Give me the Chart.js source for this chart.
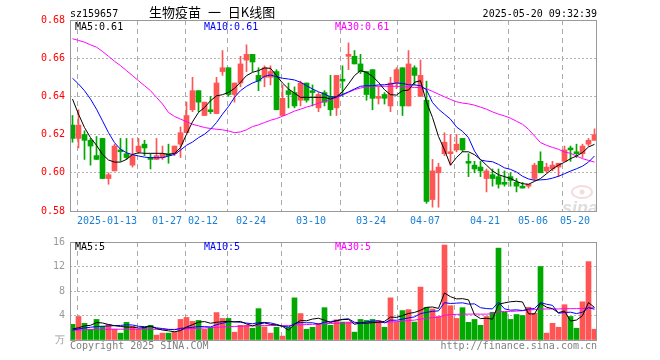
<!DOCTYPE html>
<html>
<head>
<meta charset="utf-8">
<script src="https://cdn.jsdelivr.net/npm/chart.js@4.4.1/dist/chart.umd.min.js"></script>
<style>
  html, body { margin: 0; padding: 0; background: #fff; }
  #wrap { position: relative; width: 660px; height: 360px; }
  #kline { position: absolute; left: 0; top: 0; }
  #vol { position: absolute; left: 0; top: 231px; }
</style>
</head>
<body>
<div id="wrap">
  <canvas id="kline" width="660" height="231"></canvas>
  <canvas id="vol" width="660" height="129"></canvas>
</div>
<script>
// trading days, 2025
const dates = [
  '01-03', '01-06', '01-07', '01-08', '01-09', '01-10',
  '01-13', '01-14', '01-15', '01-16', '01-17', '01-20', '01-21', '01-22', '01-23', '01-24', '01-27',
  '02-05', '02-06', '02-07', '02-10', '02-11', '02-12', '02-13', '02-14',
  '02-17', '02-18', '02-19', '02-20', '02-21', '02-24', '02-25', '02-26', '02-27', '02-28',
  '03-03', '03-04', '03-05', '03-06', '03-07', '03-10', '03-11', '03-12', '03-13', '03-14',
  '03-17', '03-18', '03-19', '03-20', '03-21', '03-24', '03-25', '03-26', '03-27', '03-28', '03-31',
  '04-01', '04-02', '04-03', '04-07', '04-08', '04-09', '04-10', '04-11',
  '04-14', '04-15', '04-16', '04-17', '04-18', '04-21', '04-22', '04-23', '04-24', '04-25',
  '04-28', '04-29', '04-30', '05-06', '05-07', '05-08', '05-09',
  '05-12', '05-13', '05-14', '05-15', '05-16', '05-19', '05-20'
];
const tickDates = ['01-13', '01-27', '02-12', '02-24', '03-10', '03-24', '04-07', '04-21', '05-06', '05-20'];
const tickLabels = ['2025-01-13', '01-27', '02-12', '02-24', '03-10', '03-24', '04-07', '04-21', '05-06', '05-20      '];
const priceTicks = [0.58, 0.60, 0.62, 0.64, 0.66, 0.68];
const volTicks = [0, 4, 8, 12, 16];

const open = [
  0.625, 0.618, 0.620, 0.617, 0.609, 0.618, 0.597, 0.601, 0.612, 0.610,
  0.604, 0.611, 0.615, 0.608, 0.607, 0.608, 0.610, 0.610, 0.615, 0.621,
  0.633, 0.643, 0.630, 0.633, 0.631, 0.653, 0.655, 0.641, 0.647, 0.659,
  0.662, 0.651, 0.650, 0.650, 0.653, 0.630, 0.643, 0.642, 0.638, 0.647,
  0.643, 0.634, 0.642, 0.640, 0.634, 0.649, 0.661, 0.661, 0.657, 0.653,
  0.654, 0.639, 0.641, 0.635, 0.647, 0.655, 0.635, 0.655, 0.640, 0.638,
  0.586, 0.600, 0.610, 0.610, 0.612, 0.618, 0.606, 0.604, 0.603, 0.597,
  0.599, 0.598, 0.595, 0.598, 0.595, 0.593, 0.593, 0.597, 0.606, 0.601,
  0.602, 0.603, 0.606, 0.613, 0.611, 0.610, 0.615, 0.617
];
const high = [
  0.630, 0.633, 0.622, 0.618, 0.619, 0.618, 0.600, 0.615, 0.618, 0.618,
  0.618, 0.618, 0.617, 0.610, 0.618, 0.614, 0.615, 0.614, 0.624, 0.637,
  0.650, 0.643, 0.637, 0.640, 0.650, 0.664, 0.655, 0.647, 0.661, 0.667,
  0.662, 0.655, 0.656, 0.656, 0.654, 0.646, 0.647, 0.645, 0.648, 0.647,
  0.646, 0.642, 0.643, 0.651, 0.651, 0.656, 0.668, 0.664, 0.662, 0.653,
  0.654, 0.645, 0.642, 0.650, 0.655, 0.655, 0.664, 0.656, 0.659, 0.648,
  0.607, 0.605, 0.621, 0.620, 0.620, 0.618, 0.610, 0.606, 0.606, 0.602,
  0.602, 0.602, 0.601, 0.600, 0.597, 0.595, 0.594, 0.605, 0.611, 0.605,
  0.606, 0.605, 0.614, 0.614, 0.615, 0.615, 0.618, 0.623
];
const low = [
  0.616, 0.613, 0.607, 0.604, 0.607, 0.597, 0.594, 0.601, 0.606, 0.607,
  0.603, 0.610, 0.609, 0.602, 0.607, 0.607, 0.605, 0.609, 0.608, 0.621,
  0.632, 0.632, 0.630, 0.631, 0.631, 0.651, 0.640, 0.637, 0.645, 0.653,
  0.653, 0.643, 0.645, 0.646, 0.633, 0.630, 0.634, 0.634, 0.635, 0.637,
  0.635, 0.632, 0.635, 0.630, 0.630, 0.640, 0.654, 0.657, 0.652, 0.638,
  0.633, 0.636, 0.636, 0.632, 0.644, 0.630, 0.635, 0.646, 0.640, 0.584,
  0.582, 0.582, 0.609, 0.604, 0.611, 0.611, 0.598, 0.600, 0.598, 0.590,
  0.593, 0.592, 0.593, 0.593, 0.590, 0.592, 0.592, 0.596, 0.600, 0.600,
  0.601, 0.598, 0.606, 0.606, 0.608, 0.608, 0.614, 0.617
];
const close = [
  0.618, 0.625, 0.617, 0.614, 0.607, 0.597, 0.599, 0.614, 0.611, 0.608,
  0.609, 0.614, 0.613, 0.607, 0.609, 0.610, 0.609, 0.614, 0.621, 0.630,
  0.643, 0.637, 0.637, 0.632, 0.647, 0.655, 0.641, 0.647, 0.657, 0.662,
  0.658, 0.648, 0.655, 0.653, 0.633, 0.639, 0.641, 0.635, 0.647, 0.638,
  0.642, 0.641, 0.637, 0.633, 0.651, 0.648, 0.662, 0.657, 0.653, 0.641,
  0.639, 0.640, 0.639, 0.647, 0.654, 0.635, 0.657, 0.651, 0.651, 0.585,
  0.601, 0.603, 0.616, 0.611, 0.615, 0.612, 0.605, 0.602, 0.601, 0.601,
  0.597, 0.594, 0.594, 0.596, 0.593, 0.592, 0.594, 0.604, 0.600, 0.603,
  0.604, 0.605, 0.612, 0.612, 0.610, 0.614, 0.617, 0.620
];

const ma5 = [
  0.6386, 0.6307, 0.6237, 0.6184, 0.6144, 0.6096, 0.6067, 0.6056, 0.6056, 0.6070,
  0.6096, 0.6105, 0.6102, 0.6102, 0.6102, 0.6102, 0.6096, 0.6102, 0.6132, 0.6202,
  0.6267, 0.6316, 0.6342, 0.6377, 0.6403, 0.6409, 0.6421, 0.6442, 0.6474, 0.6509,
  0.6526, 0.6535, 0.6549, 0.6547, 0.6509, 0.6470, 0.6439, 0.6417, 0.6395, 0.6395,
  0.6395, 0.6395, 0.6395, 0.6386, 0.6398, 0.6424, 0.6465, 0.6509, 0.6535, 0.6526,
  0.6505, 0.6474, 0.6435, 0.6409, 0.6407, 0.6430, 0.6433, 0.6474, 0.6482, 0.6370,
  0.6290, 0.6190, 0.6120, 0.6040, 0.6080, 0.6110, 0.6110, 0.6095, 0.6070, 0.6040,
  0.6010, 0.5990, 0.5980, 0.5970, 0.5955, 0.5943, 0.5940, 0.5955, 0.5970, 0.5995,
  0.6020, 0.6040, 0.6055, 0.6074, 0.6088, 0.6106, 0.6135, 0.6149
];
const ma10 = [
  0.6495, 0.6465, 0.6430, 0.6386, 0.6333, 0.6272, 0.6210, 0.6158, 0.6123, 0.6105,
  0.6095, 0.6088, 0.6082, 0.6079, 0.6079, 0.6079, 0.6088, 0.6096, 0.6119, 0.6144,
  0.6161, 0.6184, 0.6202, 0.6228, 0.6263, 0.6307, 0.6347, 0.6395, 0.6430, 0.6453,
  0.6470, 0.6482, 0.6505, 0.6512, 0.6503, 0.6495, 0.6491, 0.6486, 0.6474, 0.6456,
  0.6439, 0.6424, 0.6412, 0.6398, 0.6398, 0.6410, 0.6424, 0.6439, 0.6453, 0.6456,
  0.6456, 0.6460, 0.6461, 0.6465, 0.6470, 0.6468, 0.6461, 0.6460, 0.6456, 0.6435,
  0.6368, 0.6333, 0.6307, 0.6281, 0.6240, 0.6217, 0.6184, 0.6114, 0.6067, 0.6061,
  0.6058, 0.6044, 0.6026, 0.6018, 0.6004, 0.5982, 0.5968, 0.5961, 0.5963, 0.5965,
  0.5972, 0.5982, 0.5995, 0.6009, 0.6021, 0.6035, 0.6056, 0.6088
];
const ma30 = [
  0.6702, 0.6693, 0.6684, 0.6670, 0.6658, 0.6635, 0.6610, 0.6584, 0.6561, 0.6535,
  0.6509, 0.6482, 0.6456, 0.6430, 0.6395, 0.6360, 0.6316, 0.6295, 0.6281, 0.6268,
  0.6254, 0.6246, 0.6237, 0.6232, 0.6228, 0.6225, 0.6219, 0.6210, 0.6214, 0.6225,
  0.6242, 0.6251, 0.6263, 0.6275, 0.6284, 0.6296, 0.6309, 0.6323, 0.6333, 0.6344,
  0.6353, 0.6365, 0.6374, 0.6382, 0.6393, 0.6407, 0.6421, 0.6435, 0.6444, 0.6449,
  0.6453, 0.6453, 0.6453, 0.6453, 0.6453, 0.6451, 0.6449, 0.6447, 0.6446, 0.6440,
  0.6426, 0.6412, 0.6398, 0.6384, 0.6372, 0.6365, 0.6361, 0.6354, 0.6344, 0.6333,
  0.6319, 0.6307, 0.6298, 0.6286, 0.6270, 0.6254, 0.6228, 0.6193, 0.6158, 0.6144,
  0.6133, 0.6123, 0.6109, 0.6102, 0.6088, 0.6074, 0.6065, 0.6056
];

// volume, 万
const volume = [
  2.56, 3.84, 2.72, 1.76, 3.36, 2.24, 2.56, 1.76, 1.12, 2.88,
  2.24, 1.76, 2.08, 2.40, 0.80, 1.12, 1.12, 1.28, 3.36, 3.68,
  3.04, 3.20, 1.76, 1.97, 4.48, 3.52, 3.52, 1.28, 2.40, 2.40,
  1.92, 5.12, 2.13, 1.12, 2.08, 0.64, 2.08, 6.88, 4.32, 1.76,
  2.08, 2.72, 5.28, 2.40, 3.30, 2.93, 2.93, 1.28, 3.36, 3.20,
  3.36, 3.20, 2.08, 6.88, 2.93, 4.80, 4.96, 2.93, 8.64, 5.33,
  5.07, 3.84, 15.5, 5.60, 3.52, 5.28, 2.88, 3.36, 2.40, 3.84,
  4.53, 15.0, 4.53, 3.36, 4.16, 4.00, 5.33, 4.37, 12.0, 1.12,
  2.72, 2.08, 5.76, 3.84, 1.92, 6.24, 12.8, 1.76
];
const volMa5 = [
  1.80, 2.00, 2.30, 2.40, 2.85, 2.78, 2.53, 2.34, 2.21, 2.11,
  2.11, 1.95, 2.02, 2.27, 1.86, 1.63, 1.50, 1.34, 1.54, 2.11,
  2.50, 2.91, 3.01, 2.73, 2.89, 2.99, 3.05, 2.95, 3.04, 2.62,
  2.30, 2.62, 2.79, 2.54, 2.47, 2.22, 1.61, 2.56, 3.20, 3.14,
  3.42, 3.55, 3.23, 2.85, 3.16, 3.33, 3.37, 2.57, 2.76, 2.74,
  2.83, 2.88, 3.04, 3.74, 3.69, 3.98, 4.33, 4.50, 4.85, 5.33,
  5.39, 5.16, 7.68, 7.07, 6.71, 6.75, 6.56, 4.13, 3.49, 3.55,
  3.40, 5.83, 6.06, 6.25, 6.32, 6.21, 4.28, 4.24, 5.97, 5.36,
  5.11, 4.46, 4.74, 3.10, 3.26, 3.97, 6.11, 5.31
];
const volMa10 = [
  1.60, 1.81, 1.97, 2.08, 2.19, 2.24, 2.29, 2.35, 2.38, 2.48,
  2.45, 2.24, 2.18, 2.24, 1.98, 1.87, 1.73, 1.68, 1.90, 1.98,
  2.06, 2.21, 2.18, 2.13, 2.50, 2.74, 2.98, 2.98, 2.89, 2.76,
  2.65, 2.84, 2.87, 2.79, 2.55, 2.26, 2.12, 2.68, 2.87, 2.81,
  2.82, 2.58, 2.90, 3.02, 3.15, 3.38, 3.46, 2.90, 2.80, 2.95,
  3.08, 3.12, 2.80, 3.25, 3.22, 3.40, 3.61, 3.77, 4.30, 4.51,
  4.68, 4.75, 6.09, 5.96, 6.02, 6.07, 5.86, 5.90, 5.28, 5.13,
  5.08, 6.19, 5.09, 4.87, 4.93, 4.81, 5.05, 5.15, 6.11, 5.84,
  5.66, 4.37, 4.49, 4.54, 4.31, 4.54, 5.29, 5.02
];
const volMa30 = [
  1.60, 1.63, 1.66, 1.70, 1.72, 1.74, 1.75, 1.76, 1.76, 1.76,
  1.76, 1.76, 1.76, 1.76, 1.75, 1.74, 1.73, 1.73, 1.76, 1.80,
  1.86, 1.92, 1.97, 2.02, 2.08, 2.13, 2.18, 2.20, 2.24, 2.28,
  2.30, 2.34, 2.36, 2.36, 2.36, 2.35, 2.36, 2.42, 2.48, 2.52,
  2.56, 2.60, 2.66, 2.70, 2.74, 2.77, 2.79, 2.79, 2.80, 2.82,
  2.84, 2.85, 2.86, 2.94, 2.98, 3.08, 3.18, 3.25, 3.40, 3.55,
  3.65, 3.72, 4.05, 4.15, 4.18, 4.22, 4.22, 4.24, 4.22, 4.22,
  4.30, 4.62, 4.65, 4.68, 4.72, 4.78, 4.90, 4.96, 5.05, 5.07,
  5.07, 5.07, 5.10, 5.12, 5.12, 5.15, 5.25, 5.25
];

const UP = '#ff5555';
const DOWN = '#00a800';
const MONO = "'DejaVu Sans Mono', monospace";
const GRID = '#aaaaaa';

const candleColor = close.map((c, i) => (c >= open[i] ? UP : DOWN));
const tickPos = tickDates.map(d => dates.indexOf(d));
const xy = arr => arr.map((v, i) => ({ x: i, y: v }));
const last = arr => arr[arr.length - 1];

// shared x axis: one bar every 6px, first candle centred at x=72.5
const xMin = -0.4167;
const xMax = 87.4167;

function xAxis(showLabels) {
  return {
    type: 'linear',
    min: xMin,
    max: xMax,
    offset: false,
    afterBuildTicks: s => { s.ticks = tickPos.map(p => ({ value: p - 0.25 })); },
    afterFit: s => { s.height = showLabels ? 20 : 0; },
    grid: { color: GRID, lineWidth: 1, drawTicks: false },
    border: { display: false, dash: [5, 4] },
    ticks: {
      display: showLabels,
      autoSkip: false,
      maxRotation: 0,
      minRotation: 0,
      padding: 4,
      color: '#1a7fd4',
      font: { family: MONO, size: 10 },
      callback: (v, i) => tickLabels[i]
    }
  };
}

function yAxis(values, min, max, color, fmt) {
  return {
    min: min,
    max: max,
    afterBuildTicks: s => { s.ticks = values.map(v => ({ value: v })); },
    afterFit: s => { s.width = 70; },
    grid: {
      drawTicks: false,
      lineWidth: 1,
      color: c => (c.index === 0 || c.index === values.length - 1) ? 'rgba(0,0,0,0)' : '#b4b4b4'
    },
    border: { display: false, dash: [2, 2] },
    ticks: { padding: 5, color: color, font: { family: MONO, size: 10 }, callback: fmt }
  };
}

// box round the plot, texts, watermark
function decor(texts, mark) {
  return {
    id: 'decor',
    beforeDatasetsDraw(chart) {
      if (!mark) return;
      const { ctx, chartArea: a } = chart;
      ctx.save();
      ctx.beginPath();
      ctx.rect(a.left, a.top, a.right - a.left, a.bottom - a.top);
      ctx.clip();
      ctx.strokeStyle = 'rgba(240,205,205,0.7)';
      ctx.lineWidth = 2;
      ctx.beginPath();
      ctx.ellipse(582, 192, 10, 6, 0, 0, Math.PI * 2);
      ctx.stroke();
      ctx.fillStyle = 'rgba(240,205,205,0.7)';
      ctx.beginPath();
      ctx.arc(582, 192, 2.5, 0, Math.PI * 2);
      ctx.fill();
      ctx.fillStyle = 'rgba(200,200,200,0.6)';
      ctx.font = "italic bold 18px 'Liberation Sans', Arial, sans-serif";
      ctx.textAlign = 'right';
      ctx.textBaseline = 'alphabetic';
      ctx.fillText('sina', 598, 214);
      ctx.restore();
    },
    afterDraw(chart) {
      const { ctx, chartArea: a } = chart;
      ctx.save();
      ctx.strokeStyle = '#999999';
      ctx.lineWidth = 1;
      ctx.strokeRect(a.left + 0.5, a.top + 0.5, a.right - a.left - 1, a.bottom - a.top);
      ctx.textBaseline = 'alphabetic';
      texts.forEach(t => {
        ctx.font = t.font || ('10px ' + MONO);
        ctx.fillStyle = t.color || '#000';
        ctx.textAlign = t.align || 'left';
        if ('wordSpacing' in ctx) ctx.wordSpacing = t.ws || '0px';
        ctx.fillText(t.text, t.x, t.y);
      });
      ctx.restore();
    }
  };
}

const kTexts = [
  { text: 'sz159657', x: 70, y: 17 },
  { text: '生物疫苗 一 日K线图', x: 149, y: 17, font: "13px 'Noto Sans CJK SC', sans-serif", ws: '4px' },
  { text: '2025-05-20 09:32:39', x: 597, y: 17, align: 'right' },
  { text: 'MA5:' + last(ma5).toFixed(2), x: 75, y: 30 },
  { text: 'MA10:' + last(ma10).toFixed(2), x: 204, y: 30, color: '#0000ff' },
  { text: 'MA30:' + last(ma30).toFixed(2), x: 335, y: 30, color: '#ff00ff' }
];
const vTexts = [
  { text: 'MA5:' + last(volMa5).toFixed(0), x: 75, y: 19 },
  { text: 'MA10:' + last(volMa10).toFixed(0), x: 204, y: 19, color: '#0000ff' },
  { text: 'MA30:' + last(volMa30).toFixed(0), x: 335, y: 19, color: '#ff00ff' },
  { text: 'Copyright 2025 SINA.COM', x: 70, y: 118, color: '#808080' },
  { text: 'http://finance.sina.com.cn', x: 597, y: 118, color: '#808080', align: 'right' }
];

function maLine(data, color) {
  return { type: 'line', data: xy(data), borderColor: color, borderWidth: 1, pointRadius: 0, tension: 0, order: 0 };
}

new Chart(document.getElementById('kline'), {
  type: 'bar',
  data: {
    datasets: [
      maLine(ma5, '#000000'),
      maLine(ma10, '#0000ff'),
      maLine(ma30, '#ff00ff'),
      {
        data: open.map((o, i) => ({ x: i, y: [Math.min(o, close[i]), Math.max(o, close[i])] })),
        backgroundColor: candleColor,
        grouped: false, barThickness: 5, maxBarThickness: 5, minBarLength: 1, order: 1
      },
      {
        data: low.map((l, i) => ({ x: i, y: [l, high[i]] })),
        backgroundColor: candleColor,
        grouped: false, barThickness: 1, maxBarThickness: 1, minBarLength: 1, order: 2
      }
    ]
  },
  options: {
    responsive: false,
    devicePixelRatio: 1,
    animation: false,
    events: [],
    layout: { padding: { left: 0, right: 63, top: 20, bottom: 0 } },
    plugins: { legend: { display: false }, tooltip: { enabled: false } },
    scales: {
      x: xAxis(true),
      y: yAxis(priceTicks, 0.58, 0.68, '#ff0000', v => v.toFixed(2))
    }
  },
  plugins: [decor(kTexts, true)]
});

new Chart(document.getElementById('vol'), {
  type: 'bar',
  data: {
    datasets: [
      maLine(volMa5, '#000000'),
      maLine(volMa10, '#0000ff'),
      maLine(volMa30, '#ff00ff'),
      {
        data: xy(volume),
        backgroundColor: candleColor,
        grouped: false, barThickness: 5, maxBarThickness: 5, order: 1
      }
    ]
  },
  options: {
    responsive: false,
    devicePixelRatio: 1,
    animation: false,
    events: [],
    layout: { padding: { left: 0, right: 63, top: 9, bottom: 20 } },
    plugins: { legend: { display: false }, tooltip: { enabled: false } },
    scales: {
      x: xAxis(false),
      y: yAxis(volTicks, 0, 16, '#999999', v => (v === 0 ? '万' : String(v)))
    }
  },
  plugins: [decor(vTexts, false)]
});
</script>
</body>
</html>
